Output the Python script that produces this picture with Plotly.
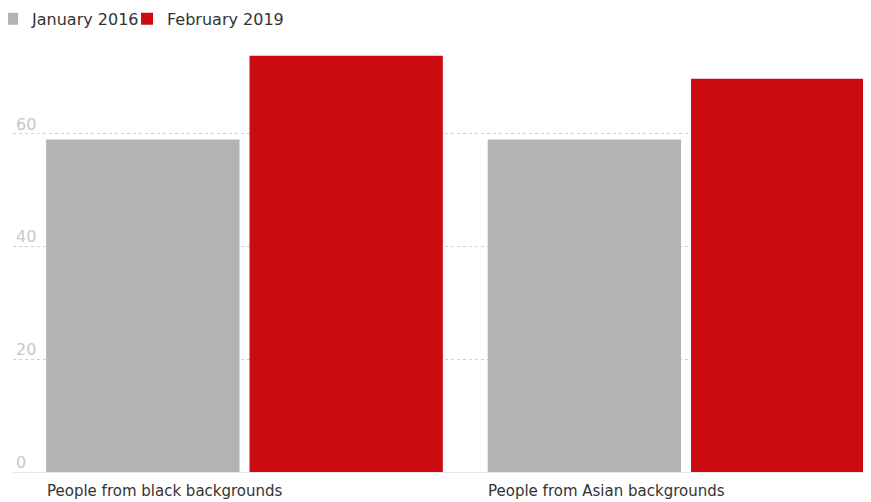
import plotly.graph_objects as go

categories = ["People from black backgrounds", "People from Asian backgrounds"]
series_names = ["January 2016", "February 2019"]
jan_2016 = [59, 59]
feb_2019 = [73.9, 69.8]
y_ticks = [0, 20, 40, 60]

colors = ["#b3b3b3", "#cc0a11"]
FONT = "DejaVu Sans"

fig = go.Figure()
for name, vals, col in zip(series_names, [jan_2016, feb_2019], colors):
    fig.add_trace(go.Bar(x=categories, y=vals, name=name, marker_color=col,
                         marker_line_width=0, hoverinfo="x+y+name"))
# invisible spacer entry so the legend box is wide enough for the last label
fig.add_trace(go.Scatter(x=[None], y=[None], mode="markers", name=" ",
                         marker=dict(color="rgba(0,0,0,0)"), hoverinfo="skip"))

for c in categories:
    fig.add_annotation(x=c, xref="x", y=0, yref="paper", text=c, showarrow=False,
                       xanchor="left", yanchor="top", xshift=-200, yshift=-8,
                       font=dict(family=FONT, size=15, color="#333333"))

fig.update_layout(
    width=871, height=502,
    margin=dict(l=5, r=0, t=42, b=38, autoexpand=False),
    paper_bgcolor="white", plot_bgcolor="white",
    barmode="group", bargap=0.079, bargroupgap=0.049,
    font=dict(family=FONT, color="#333333"),
    legend=dict(orientation="h", x=-0.0242, xanchor="left", y=1.074, yanchor="middle",
                font=dict(family=FONT, size=16, color="#333333"),
                itemwidth=30, traceorder="normal",
                entrywidth=90, entrywidthmode="pixels"),
    xaxis=dict(range=[-0.5243, 1.437], showticklabels=False, showgrid=False,
               showline=True, linecolor="#e6e6e6", linewidth=1, ticks="",
               zeroline=False),
    yaxis=dict(range=[0, 74.9], tickvals=y_ticks, showline=False, zeroline=False,
               showgrid=True, gridcolor="#d0d0d0", griddash="dot", gridwidth=1,
               ticklabelposition="inside", ticklabelshift=-10, ticklabelstandoff=0,
               tickfont=dict(family=FONT, size=16, color="#c8c8c8")),
)

fig.write_html("out.html")
